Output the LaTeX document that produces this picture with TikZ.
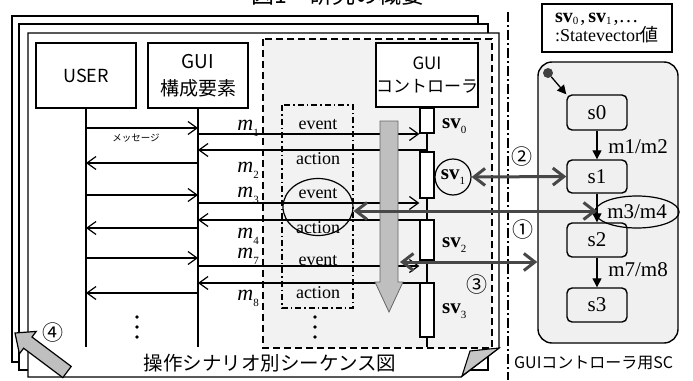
\documentclass[tikz,border=0pt]{standalone}
\usepackage{fontspec}
\setmainfont{Liberation Serif}
\newfontfamily\jp{Noto Sans CJK JP}
\usetikzlibrary{arrows.meta,shapes.geometric}
\newcommand\sbs[1]{\raisebox{-0.28em}{\fontsize{11}{11}\selectfont #1}}
\newcommand\svlab[1]{\textbf{sv}\sbs{#1}}
\newcommand\svlegend[1]{\textbf{sv}\raisebox{-0.12em}{\fontsize{11}{11}\selectfont #1}}
\newcommand\mlab[1]{\textit{m}\sbs{#1}}
\tikzset{
  pagebox/.style={draw, line width=1.3pt, fill=white},
  lbox/.style={draw, line width=1.4pt, fill=white, inner sep=0pt, align=center},
  life/.style={line width=1.3pt},
  msg/.style={line width=1.2pt, -{Straight Barb[length=9pt,width=13pt]}},
  link/.style={line width=3pt, draw=black!72, {Straight Barb[length=11pt,width=17pt]}-{Straight Barb[length=11pt,width=17pt]}},
  actbox/.style={draw, line width=1.2pt, fill=white, minimum width=14pt, inner sep=0pt},
  stbox/.style={draw, line width=1.4pt, rounded corners=5pt, minimum width=60pt, minimum height=34pt, inner sep=0pt, font=\fontsize{21}{22}\selectfont},
  trans/.style={line width=1.3pt, -{Triangle[length=9pt,width=9pt]}},
  lab/.style={inner sep=0pt},
  mtxt/.style={inner sep=0pt, anchor=base east, font=\fontsize{22}{22}\selectfont},
  eatxt/.style={inner sep=0pt, anchor=base, font=\fontsize{18}{20}\selectfont},
  svtxt/.style={inner sep=0pt, anchor=base west, font=\fontsize{21}{22}\selectfont},
  num/.style={inner sep=0pt, font=\jp\fontsize{21}{22}\selectfont},
}
\begin{document}
\begin{tikzpicture}[x=1pt,y=-1pt,font=\fontsize{18}{20}\selectfont]
\useasboundingbox (0,0) rectangle (693,380);

% title (cut off at the top, as in the reference)
\node[lab, anchor=base, font=\jp\fontsize{23}{24}\selectfont] (title) at (338,3) {図1　研究の概要};

% stacked pages
\draw[pagebox] (12,16) rectangle (478,362);
\draw[pagebox] (19,24) rectangle (488,370);
\draw[pagebox] (28,33) -- (499,33) -- (499,348) -- (461,377) -- (28,377) -- cycle;
\filldraw[fill=gray!45, line width=1.1pt] (470,351) -- (499,348) -- (462,376) -- cycle;

% controller region
\draw[line width=1.3pt, dash pattern=on 7pt off 4pt, fill=black!5] (263,39) rectangle (492,348);
\draw[line width=1.2pt, dash pattern=on 6pt off 3pt on 1.5pt off 3pt] (282,105) rectangle (353,308);

% separator
\draw[line width=1.2pt, dash pattern=on 10pt off 3pt on 2pt off 3pt] (508,12) -- (508,380);

% boxes
\node[lbox, minimum width=100pt, minimum height=65pt, font=\jp\fontsize{18}{20}\selectfont] (user) at (86,75.5) {USER};
\node[lbox, minimum width=100pt, minimum height=65pt, font=\jp\fontsize{19}{27}\selectfont] (gui) at (198,75.5) {GUI\\構成要素};
\node[lbox, minimum width=100pt, minimum height=64pt, font=\jp\fontsize{17}{23}\selectfont] (ctrl) at (427,75) {GUI\\コントローラ};

% lifelines
\draw[life] (user.south) -- (user.south |- 0,347);
\draw[life] (gui.south) -- (gui.south |- 0,347);
\draw[life] (ctrl.south) -- (ctrl.south |- 0,347);

% activation boxes
\node[actbox, minimum height=25pt] (sv0) at (427,120.5) {};
\node[actbox, minimum height=46pt] (sv1) at (427,175) {};
\node[actbox, minimum height=40pt] (sv2) at (427,240) {};
\node[actbox, minimum height=54pt] (sv3) at (427,310) {};

% USER <-> GUI messages
\draw[msg] (user.south |- 0,128) -- (gui.south |- 0,128);
\draw[msg] (gui.south |- 0,163) -- (user.south |- 0,163);
\draw[msg] (user.south |- 0,195) -- (gui.south |- 0,195);
\draw[msg] (gui.south |- 0,228) -- (user.south |- 0,228);
\draw[msg] (user.south |- 0,258) -- (gui.south |- 0,258);
\draw[msg] (gui.south |- 0,293) -- (user.south |- 0,293);
\node[lab, font=\jp\fontsize{9.5}{10}\selectfont] (msglab) at (136,138) {メッセージ};

% GUI <-> controller messages
\draw[msg] (gui.south |- 0,134) -- (sv0.west |- 0,134);
\draw[msg] (ctrl.south |- 0,150) -- (gui.south |- 0,150);
\draw[msg] (gui.south |- 0,203) -- (sv1.west |- 0,203);
\draw[msg] (ctrl.south |- 0,220) -- (gui.south |- 0,220);
\draw[msg] (gui.south |- 0,266) -- (sv2.west |- 0,266);
\draw[msg] (ctrl.south |- 0,283) -- (gui.south |- 0,283);

% m labels
\node[mtxt] (m1) at (259,130) {\mlab{1}};
\node[mtxt] (m2) at (259,172) {\mlab{2}};
\node[mtxt] (m3) at (259,197) {\mlab{3}};
\node[mtxt] (m4) at (259,238) {\mlab{4}};
\node[mtxt] (m7) at (259,258) {\mlab{7}};
\node[mtxt] (m8) at (259,300) {\mlab{8}};

% event / action
\node[eatxt] (e1) at (318,129) {event};
\node[eatxt] (a1) at (318,164) {action};
\node[eatxt] (e2) at (318,198) {event};
\node[eatxt] (a2) at (318,233) {action};
\node[eatxt] (e3) at (318,265) {event};
\node[eatxt] (a3) at (318,298) {action};
\node[draw, ellipse, line width=1.2pt, minimum width=70pt, minimum height=57pt, inner sep=0pt] (ell) at (318,207) {};

% vertical dots
\foreach \yy in {317,327,337} {
  \fill (137,\yy) circle (1.8);
  \fill (315,\yy) circle (1.8);
}

% big gray time arrow
\filldraw[fill=gray!50, draw=black!60, line width=0.8pt] (380,121) -- (398,121) -- (398,282) -- (403,282) -- (389,312) -- (375,282) -- (380,282) -- cycle;

% sv labels
\node[svtxt] (sv0l) at (442,128) {\svlab{0}};
\node[draw, circle, line width=1.2pt, minimum size=36pt, inner sep=0pt, font=\fontsize{21}{22}\selectfont] (svc) at (453,177) {\svlab{1}};
\node[svtxt] (sv2l) at (442,247) {\svlab{2}};
\node[svtxt] (sv3l) at (442,313) {\svlab{3}};

% right: legend
\node[draw, line width=1.4pt, minimum width=130pt, minimum height=48pt, inner sep=0pt, align=left, font=\fontsize{18}{18}\selectfont] (legend) at (607,28) {{\fontsize{20}{18}\selectfont\svlegend{0}\kern2pt,\kern3pt\svlegend{1}\kern2pt,\ldots}\\:Statevector{\jp 値}};

% state chart
\node[draw, line width=1.4pt, rounded corners=14pt, fill=black!6, minimum width=140pt, minimum height=281pt, inner sep=0pt] (chart) at (608,202.5) {};
\node[circle, fill=black!75, minimum size=10pt, inner sep=0pt] (init) at (548,73) {};
\node[stbox, minimum height=35pt] (s0) at (597,112.5) {s0};
\node[stbox, minimum height=33pt] (s1) at (597,176.5) {s1};
\node[stbox] (s2) at (597,240) {s2};
\node[stbox] (s3) at (597,305) {s3};
\draw[trans] (init) -- (s0.north west);
\draw[trans] (s0.south) -- (s1.north);
\draw[trans] (s1.south) -- (s2.north);
\draw[trans] (s2.south) -- (s3.north);
\node[lab, font=\fontsize{21}{22}\selectfont] (t1) at (638,147) {m1/m2};
\node[draw, ellipse, line width=1.2pt, minimum width=68pt, minimum height=32pt, inner sep=0pt, font=\fontsize{21}{22}\selectfont] (t2) at (637,212) {m3/m4};
\node[lab, font=\fontsize{21}{22}\selectfont] (t3) at (638,270) {m7/m8};

% links
\coordinate (c3) at (400,262);
\draw[link] (svc.east) -- (s1.west);
\draw[link] (ell.east |- 0,211) -- (s1.south |- 0,211);
\draw[link] (c3) -- (chart.west |- 0,262);
\node[num] (n2) at (522,157) {②};
\node[num] (n1) at (523,230) {①};
\node[num] (n3) at (477,285) {③};

% arrow 4
\filldraw[fill=gray!50, line width=1.2pt] (15,333) -- (36.2,331.4) -- (32,337) -- (71.2,366.4) -- (62.8,377.6) -- (23.6,348.2) -- (19.4,353.8) -- cycle;
\node[num] (n4) at (53,333) {④};

% captions
\node[lab, font=\jp\fontsize{19.5}{20}\selectfont] (cap1) at (270,363) {操作シナリオ別シーケンス図};
\node[lab, anchor=west, font=\jp\fontsize{16}{17}\selectfont] (cap2) at (514,363) {GUIコントローラ用SC};
\end{tikzpicture}
\end{document}
